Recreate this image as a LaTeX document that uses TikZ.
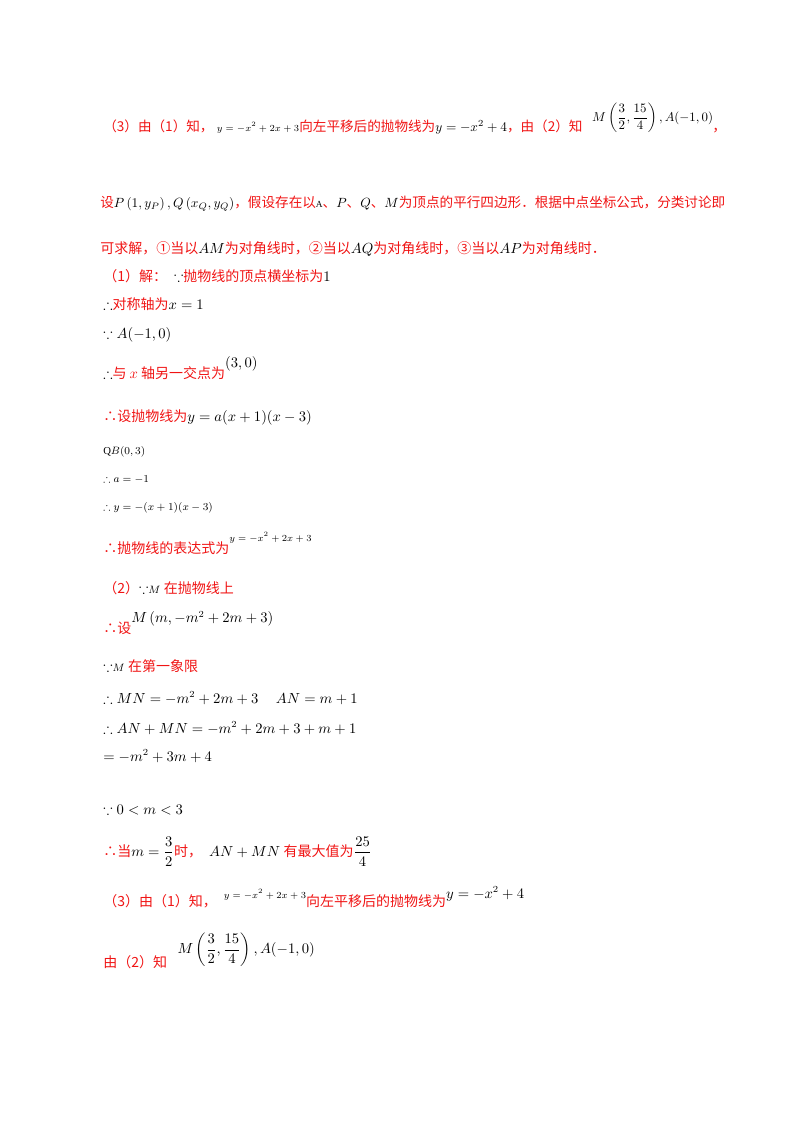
\documentclass[tikz,border=0pt]{standalone}
\usepackage{amsmath,amssymb}
\usepackage{fontspec}
\setmainfont{Liberation Serif}
\newfontfamily\cjk{Noto Sans CJK SC}
\definecolor{myred}{RGB}{240,20,20}
\newcommand{\R}[1]{{\color{myred}\cjk #1}}
\begin{document}
\begin{tikzpicture}[x=0.75pt,y=-0.75pt,
  ln/.style={anchor=base west,inner sep=0pt,font=\fontsize{10.5pt}{12pt}\selectfont}]
\useasboundingbox (0,0) rectangle (800,1132);
\node[ln,font=\fontsize{10.2pt}{12pt}\selectfont] (l1) at (103,131) {\R{（3）由（1）知，}\ {\scriptsize$y=-x^2+2x+3$}\R{向左平移后的抛物线为}$y=-x^2+4$\R{，由（2）知}};
\node[ln,scale=0.88] (l1b) at (592,121) {$M\left(\dfrac32,\dfrac{15}4\right),A(-1,0)$};
\node[ln] (l1c) at (712,131) {\R{，}};
\node[ln,font=\fontsize{10.2pt}{12pt}\selectfont] (l2) at (100,207) {\R{设}$P\left(1,y_P\right),Q\left(x_Q,y_Q\right)$\R{，假设存在以}{\scriptsize A}\R{、}$P$\R{、}$Q$\R{、}$M$\R{为顶点的平行四边形．根据中点坐标公式，分类讨论即}};
\node[ln] (l3) at (100,253) {\R{可求解，①当以}$AM$\R{为对角线时，②当以}$AQ$\R{为对角线时，③当以}$AP$\R{为对角线时．}};
\node[ln] (a1) at (103,281) {\R{（1）解：}\ \ $\because$\R{抛物线的顶点横坐标为}$1$};
\node[ln] (a2) at (103,309) {$\therefore$\R{对称轴为}$x=1$};
\node[ln] (a3) at (103,338) {$\because A(-1,0)$};
\node[ln] (a4) at (103,378) {$\therefore$\R{与 $x$ 轴另一交点为}\raisebox{8pt}{$(3,0)$}};
\node[ln] (a5) at (103,421) {\R{∴设抛物线为}$y=a(x+1)(x-3)$};
\node[ln] (a6) at (103,454) {\footnotesize Q$B(0,3)$};
\node[ln] (a7) at (103,482) {\footnotesize$\therefore a=-1$};
\node[ln] (a8) at (103,510) {\footnotesize$\therefore y=-(x+1)(x-3)$};
\node[ln] (a9) at (103,553) {\R{∴抛物线的表达式为}\raisebox{9pt}{\scriptsize$y=-x^2+2x+3$}};
\node[ln] (b1) at (103,593) {\R{（2）}$\because${\footnotesize$M$}\ \R{在抛物线上}};
\node[ln] (b2) at (103,633) {\R{∴设}\raisebox{8pt}{$M\left(m,-m^2+2m+3\right)$}};
\node[ln] (b3) at (103,671) {$\because${\footnotesize$M$}\ \R{在第一象限}};
\node[ln] (b4) at (103,703) {$\therefore MN=-m^2+2m+3\quad\ AN=m+1$};
\node[ln] (b5) at (103,733) {$\therefore AN+MN=-m^2+2m+3+m+1$};
\node[ln] (b6) at (103,761) {$=-m^2+3m+4$};
\node[ln] (b7) at (103,814) {$\because 0<m<3$};
\node[ln] (b8) at (103,856) {\R{∴当}$m=\dfrac32$\R{时，}\ \ $AN+MN$\ \R{有最大值为}$\dfrac{25}4$};
\node[ln] (c1) at (103,906) {\R{（3）由（1）知，}\ \ \raisebox{6pt}{\scriptsize$y=-x^2+2x+3$}\R{向左平移后的抛物线为}\raisebox{6pt}{$y=-x^2+4$}};
\node[ln] (c2) at (103,967) {\R{由（2）知}\ \ \ \raisebox{10pt}{$M\left(\dfrac32,\dfrac{15}4\right),A(-1,0)$}};
\end{tikzpicture}
\end{document}
